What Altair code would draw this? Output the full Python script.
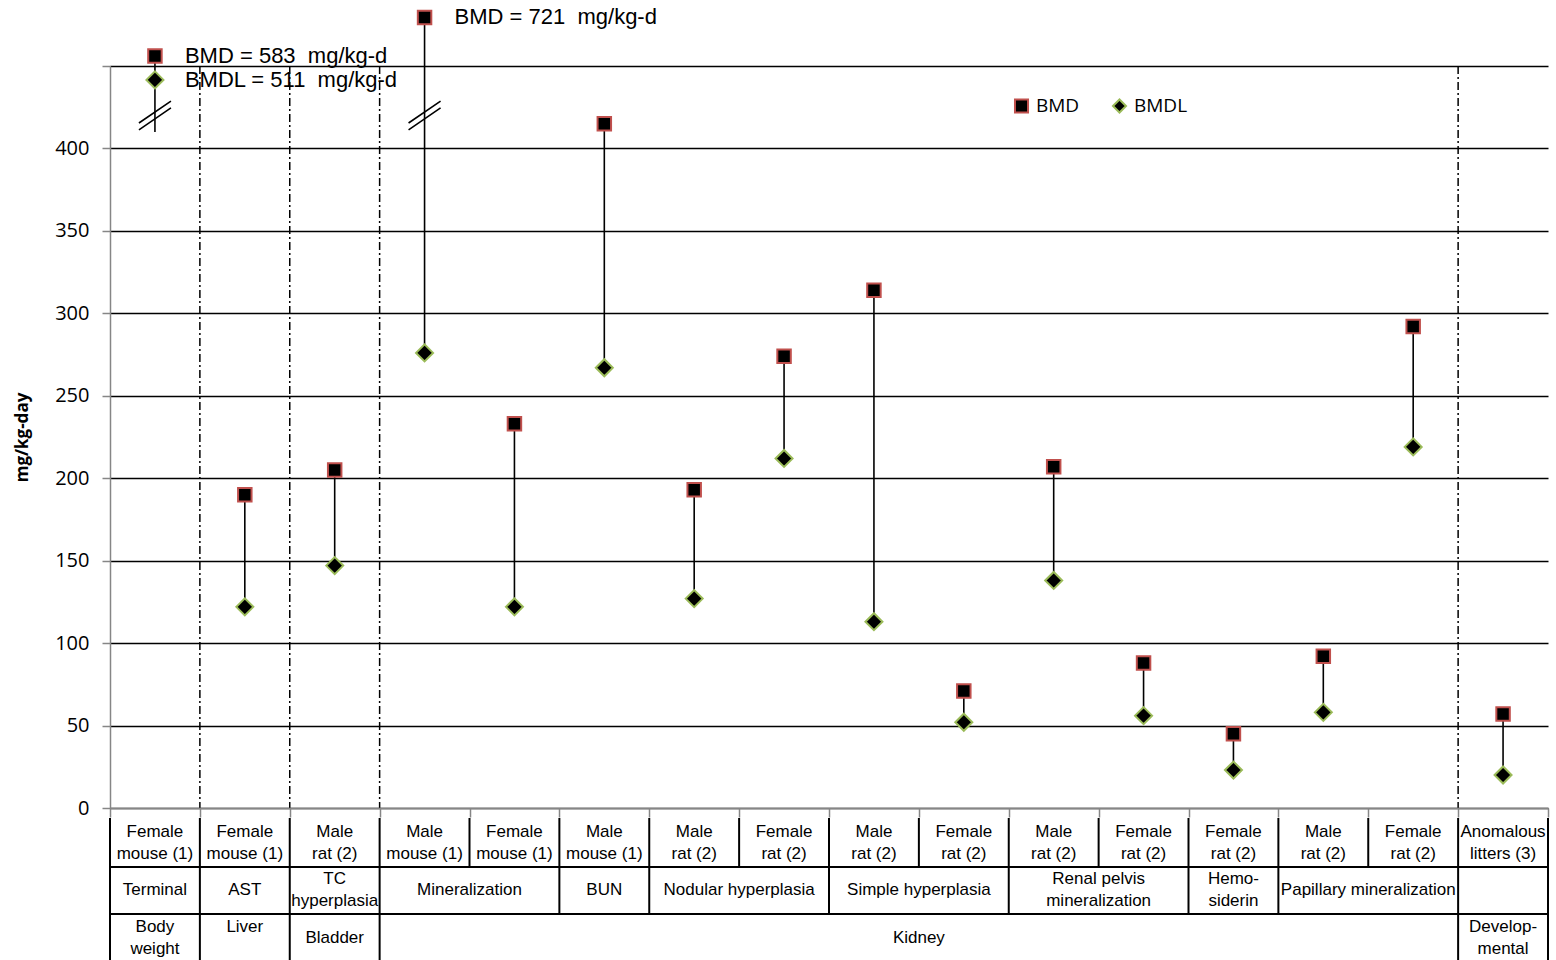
import altair as alt
import pandas as pd

# ---- data -------------------------------------------------------------
species = [
    "Female\nmouse (1)", "Female\nmouse (1)", "Male\nrat (2)", "Male\nmouse (1)",
    "Female\nmouse (1)", "Male\nmouse (1)", "Male\nrat (2)", "Female\nrat (2)",
    "Male\nrat (2)", "Female\nrat (2)", "Male\nrat (2)", "Female\nrat (2)",
    "Female\nrat (2)", "Male\nrat (2)", "Female\nrat (2)", "Anomalous\nlitters (3)",
]
bmd = [583, 190, 205, 721, 233, 415, 193, 274, 314, 71, 207, 88, 45, 92, 292, 57]
bmdl = [511, 122, 147, 276, 122, 267, 127, 212, 113, 52, 138, 56, 23, 58, 219, 20]

endpoints = ["Terminal", "AST", "TC\nhyperplasia", "Mineralization", "BUN",
             "Nodular hyperplasia", "Simple hyperplasia",
             "Renal pelvis\nmineralization", "Hemo-\nsiderin",
             "Papillary mineralization", ""]
endpoint_spans = [1, 1, 1, 2, 1, 2, 2, 2, 1, 2, 1]

organs = ["Body\nweight", "Liver\n", "Bladder", "Kidney", "Develop-\nmental"]
organ_spans = [1, 1, 1, 12, 1]

y_ticks = [0, 50, 100, 150, 200, 250, 300, 350, 400, 450]

# values above BREAK are drawn on a compressed (log) segment of the axis
BREAK = 420
COMPRESS = 110
disp_expr = "datum.{f} > %d ? %d + %d * log(datum.{f} / %d) : datum.{f}" % (BREAK, BREAK, COMPRESS, BREAK)

N = len(bmd)
W, H = 1438, 742

FONT_NUM = "Open Sans, sans-serif"
FONT_TAB = "Liberation Sans, Arial, sans-serif"
FONT_ANN = "Liberation Sans, Arial, sans-serif"

RED = "#c0504d"
GREEN = "#9bbb59"
GRAY = "#868686"

# ---- tables -----------------------------------------------------------
wide = pd.DataFrame({"pos": [i + 0.5 for i in range(N)], "bmd": bmd, "bmdl": bmdl})
long = pd.concat([
    pd.DataFrame({"pos": wide["pos"], "series": "BMD", "value": bmd}),
    pd.DataFrame({"pos": wide["pos"], "series": "BMDL", "value": bmdl}),
], ignore_index=True)


def cells(labels, spans):
    rows, start = [], 0
    for lab, s in zip(labels, spans):
        rows.append({"start": start, "end": start + s, "mid": start + s / 2, "label": lab})
        start += s
    return pd.DataFrame(rows)


row1 = cells(species, [1] * N)
row2 = cells(endpoints, endpoint_spans)
row3 = cells(organs, organ_spans)


def edges(df):
    return pd.DataFrame({"b": sorted(set(df["start"]).union(set(df["end"])))})


organ_edges = edges(row3)
separators = organ_edges[(organ_edges["b"] > 0) & (organ_edges["b"] < N)]

xscale = alt.Scale(domain=[0, N], nice=False, zero=False)
yscale = alt.Scale(domain=[0, 450], nice=False)

# ---- plot layers ------------------------------------------------------
sep = alt.Chart(separators).mark_rule(
    color="black", strokeWidth=1.5, strokeDash=[8, 3, 2, 3]
).encode(
    x=alt.X("b:Q", scale=xscale, axis=alt.Axis(
        values=list(range(N + 1)), labels=False, grid=False, title=None,
        domainColor=GRAY, domainWidth=1.5, tickColor=GRAY, tickSize=9,
        tickWidth=1.5, zindex=1)),
    y=alt.Y(datum=450, scale=yscale),
    y2=alt.datum(0),
)

ranges = alt.Chart(wide).transform_calculate(
    hi=disp_expr.format(f="bmd"),
    lo="datum.bmdl > %d ? %d : %s" % (BREAK, BREAK - 10, disp_expr.format(f="bmdl")),
).mark_rule(color="black", strokeWidth=1.6).encode(
    x=alt.X("pos:Q", scale=xscale),
    y=alt.Y("hi:Q", scale=yscale),
    y2="lo:Q",
)

breaks = alt.Chart(wide).transform_filter(
    "datum.bmd > %d" % BREAK
).transform_calculate(brk=str(BREAK)).mark_point(
    shape="M -1 0.47 L 1 -0.9 M -1 0.9 L 1 -0.47",
    filled=False, stroke="black", strokeWidth=1.6, size=1024, opacity=1,
).encode(
    x=alt.X("pos:Q", scale=xscale),
    y=alt.Y("brk:Q", scale=yscale),
)

legend = alt.Legend(
    title=None, orient="none", legendX=902, legendY=30, direction="horizontal",
    labelFont=FONT_NUM, labelFontSize=19, labelColor="black", labelOffset=5,
    symbolSize=170, symbolStrokeWidth=2, symbolFillColor="black",
    columnPadding=28,
)

points = alt.Chart(long).transform_calculate(
    disp=disp_expr.format(f="value"),
    sz="datum.series == 'BMD' ? 182 : 289",
).mark_point(
    filled=False, fill="black", fillOpacity=1, strokeWidth=2, opacity=1
).encode(
    x=alt.X("pos:Q", scale=xscale),
    y=alt.Y("disp:Q", scale=yscale, axis=alt.Axis(
        values=y_ticks, title="mg/kg-day",
        labelExpr="datum.value == 450 ? '' : datum.label",
        labelFont=FONT_NUM, labelFontSize=20, labelColor="black", labelPadding=13,
        domainColor=GRAY, domainWidth=1.5, tickColor=GRAY, tickSize=8, tickWidth=1.5,
        grid=True, gridColor="black", gridWidth=1.6,
        titleFont=FONT_NUM, titleFontSize=17, titleFontWeight="bold", titleColor="black",
        titleX=-88, titleY=H / 2, titleAngle=270, titleAlign="center",
        titleBaseline="middle")),
    shape=alt.Shape("series:N", scale=alt.Scale(domain=["BMD", "BMDL"],
                    range=["square", "diamond"]), legend=legend),
    color=alt.Color("series:N", scale=alt.Scale(domain=["BMD", "BMDL"],
                    range=[RED, GREEN]), legend=legend),
    size=alt.Size("sz:Q", scale=None),
)

notes = alt.Chart(long).transform_filter(
    "datum.value > %d" % BREAK
).transform_calculate(
    disp=disp_expr.format(f="value"),
    note="datum.series + ' = ' + datum.value + ' \u00a0mg/kg-d'",
).mark_text(
    align="left", baseline="middle", dx=30, font=FONT_ANN, fontSize=22, color="black"
).encode(
    x=alt.X("pos:Q", scale=xscale),
    y=alt.Y("disp:Q", scale=yscale),
    text="note:N",
)

# ---- category table under the axis ------------------------------------
ROW_TOPS = [752, 801, 848]
ROW_BOTS = [801, 848, 894]
ROW_MIDS = [777, 824, 872]
LINE_H = 22


def table_layers(df, k):
    vlines = alt.Chart(edges(df)).mark_rule(color="black", strokeWidth=2).encode(
        x=alt.X("b:Q", scale=xscale),
        y=alt.value(ROW_TOPS[k]),
        y2=alt.value(ROW_BOTS[k]),
    )
    out = [vlines]
    # one-line and two-line cell labels, each block centred in its row
    for test, shift in [("indexof(datum.label, '\\n') < 0", 0),
                        ("indexof(datum.label, '\\n') >= 0", LINE_H / 2)]:
        out.append(alt.Chart(df).transform_filter(test).mark_text(
            font=FONT_TAB, fontSize=17, lineBreak="\n", lineHeight=LINE_H,
            baseline="middle", align="center", color="black",
        ).encode(
            x=alt.X("mid:Q", scale=xscale),
            y=alt.value(ROW_MIDS[k] - shift),
            text="label:N",
        ))
    return out


full = pd.DataFrame({"a": [0], "b": [N]})
hlines = [
    alt.Chart(full).mark_rule(color="black", strokeWidth=2).encode(
        x=alt.X("a:Q", scale=xscale), x2="b:Q", y=alt.value(yb))
    for yb in ROW_BOTS[:2]
]

layers = [sep, ranges, breaks, points, notes] + hlines
for k, df in enumerate([row1, row2, row3]):
    layers += table_layers(df, k)

chart = alt.layer(*layers).properties(
    width=W, height=H,
    autosize=alt.AutoSizeParams(type="none"),
    padding={"left": 110, "top": 66, "right": 8, "bottom": 152},
    background="white",
).configure_view(stroke=None)

chart.save("out.html", embed_options={"renderer": "svg", "actions": False})
